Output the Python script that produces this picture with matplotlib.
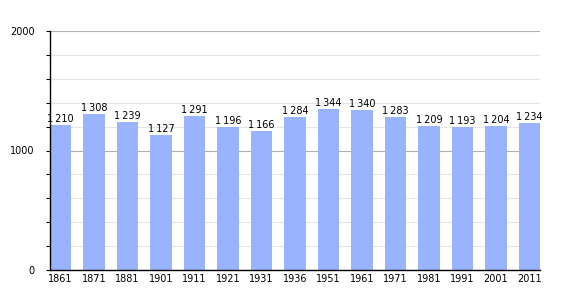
import matplotlib
matplotlib.use("Agg")
import matplotlib.pyplot as plt
from matplotlib.ticker import MultipleLocator

years = ["1861", "1871", "1881", "1901", "1911", "1921", "1931", "1936",
         "1951", "1961", "1971", "1981", "1991", "2001", "2011"]
population = [1210, 1308, 1239, 1127, 1291, 1196, 1166, 1284,
              1344, 1340, 1283, 1209, 1193, 1204, 1234]

fig = plt.figure(figsize=(5.7, 3.0), dpi=100)
ax = fig.add_axes([50/570, 30/300, 490/570, 239/300])

x = list(range(len(years)))
w = 0.63
ax.bar(x, population, width=w, color="#99b3ff", zorder=2)

for xi, v in zip(x, population):
    s = f"{v:,}".replace(",", "\u2009")
    ax.text(xi, v + 8, s, ha="center", va="bottom", fontsize=7, color="black", zorder=3)

ax.set_xlim(-w/2, len(years) - 1 + w/2)
ax.set_ylim(0, 2000)
ax.set_xticks(x)
ax.set_xticklabels(years, fontsize=7)
ax.set_yticks([0, 1000, 2000])
ax.set_yticklabels(["0", "1000", "2000"], fontsize=7)
ax.yaxis.set_minor_locator(MultipleLocator(200))
ax.tick_params(axis="x", length=0, pad=3)
ax.tick_params(axis="y", which="major", length=3, width=0.8, pad=8)
ax.tick_params(axis="y", which="minor", length=3, width=0.8)

ax.grid(axis="y", which="major", color="#b0b0b0", linewidth=0.8, zorder=1)
ax.grid(axis="y", which="minor", color="#e6e6e6", linewidth=0.8, zorder=1)
ax.set_axisbelow(True)
for sp in ["top", "right"]:
    ax.spines[sp].set_visible(False)
ax.spines["left"].set_linewidth(1.0)
ax.spines["bottom"].set_linewidth(1.0)

fig.savefig("out.png", dpi=100)
